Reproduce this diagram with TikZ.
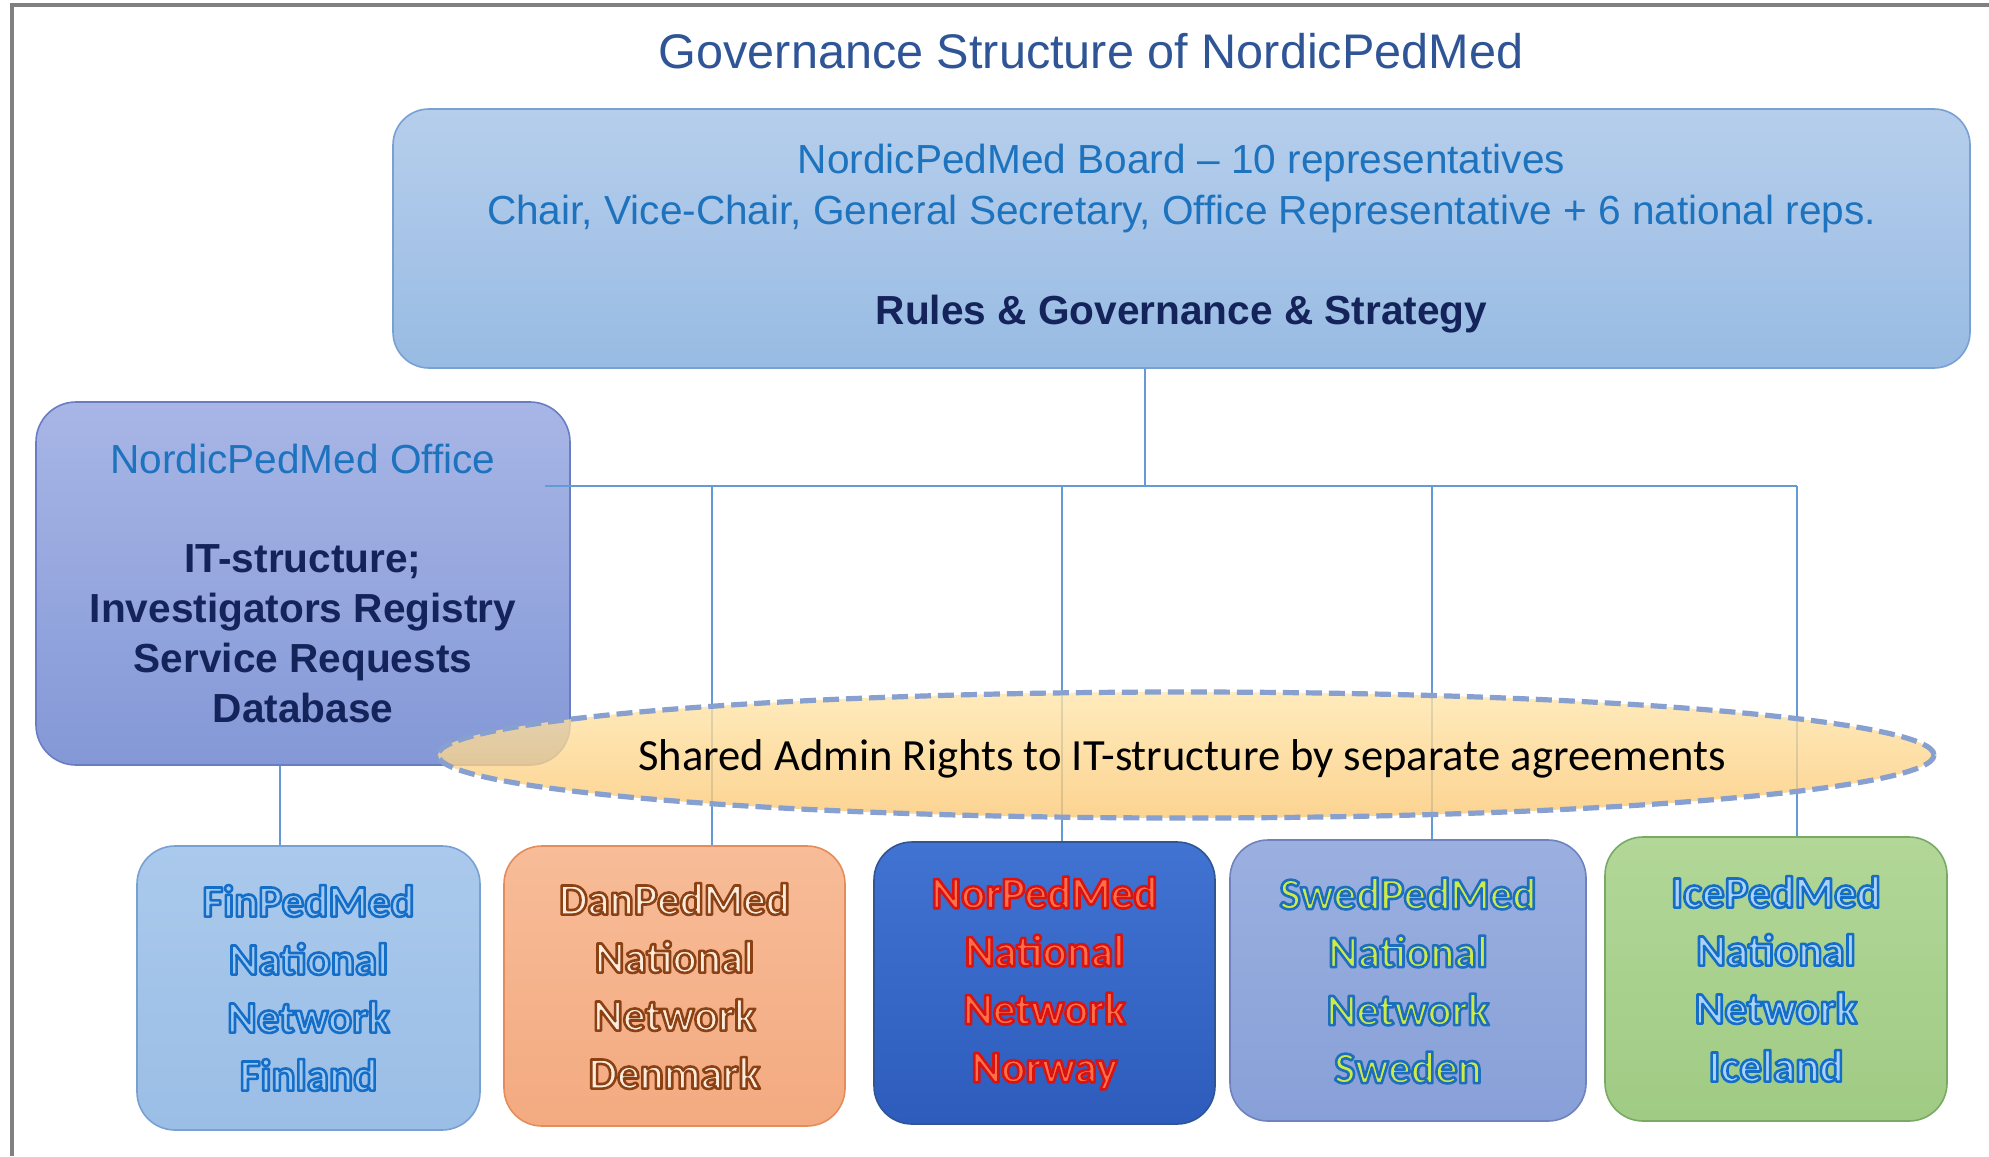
\documentclass[tikz,border=0pt]{standalone}
\usepackage{fontspec}
\setmainfont{Liberation Sans}
\newfontfamily\calib{Carlito}
\usetikzlibrary{shapes.geometric}

\definecolor{framegray}{RGB}{128,128,128}
\definecolor{titleblue}{RGB}{47,85,151}
\definecolor{boardtxt}{RGB}{30,115,190}
\definecolor{navy}{RGB}{20,35,90}
\definecolor{linkblue}{RGB}{100,155,215}
\definecolor{boardtop}{RGB}{182,206,236}
\definecolor{boardbot}{RGB}{152,187,227}
\definecolor{boardedge}{RGB}{120,160,210}
\definecolor{offtop}{RGB}{168,182,230}
\definecolor{offbot}{RGB}{132,152,215}
\definecolor{offedge}{RGB}{105,125,195}
\definecolor{elltop}{RGB}{255,230,170}
\definecolor{ellbot}{RGB}{252,200,115}
\definecolor{elledge}{RGB}{135,160,208}
\definecolor{fintop}{RGB}{170,201,236}
\definecolor{finbot}{RGB}{155,190,230}
\definecolor{finedge}{RGB}{120,160,210}
\definecolor{dantop}{RGB}{247,188,152}
\definecolor{danbot}{RGB}{243,170,128}
\definecolor{danedge}{RGB}{230,140,90}
\definecolor{nortop}{RGB}{65,115,210}
\definecolor{norbot}{RGB}{45,92,188}
\definecolor{noredge}{RGB}{47,85,151}
\definecolor{swetop}{RGB}{155,176,224}
\definecolor{swebot}{RGB}{136,160,216}
\definecolor{sweedge}{RGB}{110,130,190}
\definecolor{icetop}{RGB}{178,215,152}
\definecolor{icebot}{RGB}{160,203,132}
\definecolor{iceedge}{RGB}{120,170,100}
\definecolor{finfill}{RGB}{160,200,240}
\definecolor{danfill}{RGB}{253,236,220}
\definecolor{norfill}{RGB}{255,110,70}
\definecolor{swefill}{RGB}{205,235,70}
\definecolor{icefill}{RGB}{170,210,248}

% outlined (fill + stroke) text; #2 = stroke colour as "r g b"
\newcommand{\wart}[3]{{\color{#1}\special{pdf:literal direct 2 Tr 1.3 w 1 j #2 RG}#3\special{pdf:literal direct 0 Tr}}}
\def\finline{0.078 0.431 0.784}
\def\danline{0.549 0.255 0.078}
\def\norline{0.843 0.078 0.078}
\def\sweline{0.118 0.431 0.745}

\tikzset{
  box/.style={rectangle, rounded corners=18pt, line width=0.8pt, align=center},
  natbox/.style={box, rounded corners=19pt, font=\calib\bfseries\fontsize{22.5pt}{29pt}\selectfont},
  conn/.style={draw=linkblue, line width=1pt},
}

\begin{document}
\begin{tikzpicture}[x=0.5pt,y=-0.5pt]
\useasboundingbox (0,0) rectangle (1989,1156);
\fill[white] (0,0) rectangle (1989,1156);
\draw[framegray, line width=1.6pt] (12,1156) -- (12,5) -- (1989,5);

\node[text=titleblue, font=\fontsize{24.3pt}{29pt}\selectfont] (title) at (1091,51) {Governance Structure of NordicPedMed};

\node[box, draw=boardedge, top color=boardtop, bottom color=boardbot,
      minimum width=788.5pt, minimum height=129.5pt,
      font=\fontsize{20.3pt}{25.5pt}\selectfont, text=boardtxt] (board) at (1181.5,238.5)
  {NordicPedMed Board -- 10 representatives\\
   Chair, Vice-Chair, General Secretary, Office Representative + 6 national reps.\\[24.5pt]
   \textcolor{navy}{\bfseries Rules \& Governance \& Strategy}};

\node[box, rounded corners=20pt, draw=offedge, top color=offtop, bottom color=offbot,
      minimum width=267pt, minimum height=181.5pt,
      font=\fontsize{20.3pt}{25pt}\selectfont, text=navy] (office) at (303,583.5)
  {\textcolor{boardtxt}{NordicPedMed Office}\\[24.5pt]
   \bfseries IT-structure;\\
   \bfseries Investigators Registry\\
   \bfseries Service Requests\\
   \bfseries Database};

\node[natbox, draw=finedge, top color=fintop, bottom color=finbot,
      minimum width=171.5pt, minimum height=142pt] (fin) at (308.5,988)
  {\wart{finfill}{\finline}{FinPedMed}\\\wart{finfill}{\finline}{National}\\\wart{finfill}{\finline}{Network}\\\wart{finfill}{\finline}{Finland}};
\node[natbox, draw=danedge, top color=dantop, bottom color=danbot,
      minimum width=170.5pt, minimum height=140pt] (dan) at (674.5,986)
  {\wart{danfill}{\danline}{DanPedMed}\\\wart{danfill}{\danline}{National}\\\wart{danfill}{\danline}{Network}\\\wart{danfill}{\danline}{Denmark}};
\node[natbox, draw=noredge, top color=nortop, bottom color=norbot,
      minimum width=170.5pt, minimum height=141pt] (nor) at (1044.5,983)
  {\wart{norfill}{\norline}{NorPedMed}\\\wart{norfill}{\norline}{National}\\\wart{norfill}{\norline}{Network}\\\wart{norfill}{\norline}{Norway}};
\node[natbox, draw=sweedge, top color=swetop, bottom color=swebot,
      minimum width=178pt, minimum height=140.5pt] (swe) at (1408,980.5)
  {\wart{swefill}{\sweline}{SwedPedMed}\\\wart{swefill}{\sweline}{National}\\\wart{swefill}{\sweline}{Network}\\\wart{swefill}{\sweline}{Sweden}};
\node[natbox, draw=iceedge, top color=icetop, bottom color=icebot,
      minimum width=171pt, minimum height=142pt] (ice) at (1776,979)
  {\wart{icefill}{\finline}{IcePedMed}\\\wart{icefill}{\finline}{National}\\\wart{icefill}{\finline}{Network}\\\wart{icefill}{\finline}{Iceland}};

\coordinate (hub) at (1145,486);
\coordinate (hl) at (545,486);
\coordinate (hr) at (1797,486);
\coordinate (jd) at (712,486);
\coordinate (jn) at (1062,486);
\coordinate (js) at (1432,486);
\coordinate (jo) at (280,800);

\draw[conn] (board.south -| hub) -- (hub);
\draw[conn] (hl) -- (hr);
\draw[conn] (jd) -- (jd |- dan.north);
\draw[conn] (jn) -- (jn |- nor.north);
\draw[conn] (js) -- (js |- swe.north);
\draw[conn] (hr) -- (hr |- ice.north);
\draw[conn] (office.south -| jo) -- (fin.north -| jo);

\node[ellipse, draw=elledge, line width=2.6pt, dash pattern=on 8pt off 3.5pt,
      top color=elltop, bottom color=ellbot, fill opacity=0.78, draw opacity=1,
      minimum width=748pt, minimum height=63pt, inner sep=0pt] (shared) at (1186,755) {};
\node[font=\calib\fontsize{22.3pt}{26pt}\selectfont, text=black] (sharedtxt) at (1182,759)
  {Shared Admin Rights to IT-structure by separate agreements};
\end{tikzpicture}
\end{document}
